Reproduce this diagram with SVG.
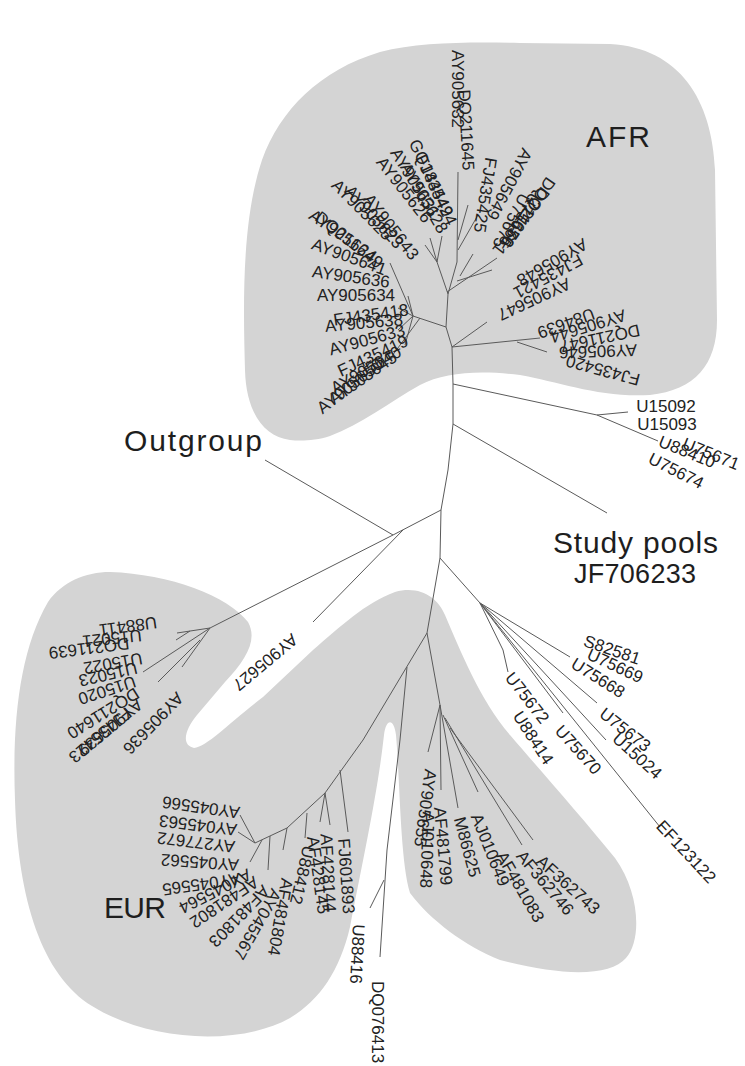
<svg xmlns="http://www.w3.org/2000/svg" width="745" height="1066" viewBox="0 0 745 1066">
<style>
.blob{fill:#d4d4d4;stroke:none}
.c path{fill:none;stroke:#5a5a5a;stroke-width:1}
.l{font-family:"Liberation Sans",Arial,sans-serif;font-size:17px;fill:#222;text-anchor:middle;dominant-baseline:central}
.b{font-family:"Liberation Sans",Arial,sans-serif;font-size:30px;fill:#1e1e1e}
</style>
<rect width="745" height="1066" fill="#ffffff"/>
<g id="regions">
<path class="blob" d="M290,440 C262,436 246,410 245,370 C243,300 242,220 262,160 C280,110 320,70 380,52 C420,42 470,42 520,43 L610,44 C680,48 712,100 715,170 L717,320 C717,365 695,390 650,395 C600,398 560,382 520,375 C480,370 445,372 420,385 C390,402 360,425 330,436 C315,441 300,441 290,440 Z"/>
<path class="blob" d="M110,572 C170,574 228,596 248,622 C258,640 246,660 225,682 L197,715 C186,728 180,745 194,748 C208,746 230,722 263,697 L313,650 C340,627 365,603 395,592 C420,585 438,598 445,615 C460,650 480,700 510,735 C540,770 580,815 615,858 C640,893 642,940 626,958 C610,977 560,976 500,960 C465,946 430,920 410,893 C400,860 400,780 396,735 C394,718 386,718 384,735 C378,790 365,850 350,927 C340,970 320,1000 290,1018 C240,1046 150,1042 92,1006 C42,975 18,900 15,800 C12,720 20,650 48,602 C62,582 85,572 110,572 Z"/>
</g>
<g id="connectors" class="c">
<path d="M458,172 L457,262 L448,294 L446,327 L452,347 L453,384 L453,424 L448,470 L441,510 L440,558 L427,633"/>
<path d="M446,327 L413,316 M413,316 L390,263 M413,316 L408,296 M413,316 L398,308 M413,316 L398,330 M413,316 L405,345 M420,318 L392,356"/>
<path d="M448,294 L437,262 M437,262 L430,238 M437,262 L442,236 M437,262 L425,245"/>
<path d="M447,292 L497,258 M460,276 L473,254 M457,281 L492,270 M458,240 L468,205 M458,250 L478,215"/>
<path d="M452,347 L540,338 M517,342 L547,352 M452,347 L487,322"/>
<path d="M453,384 L597,415 L628,412 M597,415 L658,441"/>
<path d="M453,424 L607,513"/>
<path d="M393,535 L441,510 M393,535 L265,460 M393,535 L210,628 M403,530 L313,622"/>
<path d="M210,628 L177,633 M190,631 L176,640 M210,628 L143,672 M200,640 L158,682 M210,628 L182,667"/>
<path d="M440,558 L480,603 M480,603 L570,657 M480,603 L597,703 M480,603 L606,740 M480,603 L660,827 M480,603 L503,650 L508,672 M480,603 L563,713"/>
<path d="M427,633 L440,705 M440,705 L428,752 M440,705 L441,790 M440,705 L458,808 M443,715 L478,792 M445,718 L522,845 M450,728 L533,840"/>
<path d="M427,633 L363,740 L325,793 L287,828 L255,843 M325,793 L330,825 M325,793 L320,822 M340,770 L348,832 M307,813 L305,838 M287,828 L283,850 M255,843 L240,815 M255,843 L238,832 M262,840 L250,862 M270,836 L268,870"/>
<path d="M407,667 L400,740 L387,850 L380,957 M384,880 L370,908"/>
</g>
<g id="labels-main">
<g id="n-afr"><text class="b" x="586" y="147" textLength="64">AFR</text></g>
<g id="n-outgroup"><text class="b" x="124" y="451" textLength="138">Outgroup</text></g>
<g id="n-study"><text class="b" x="553" y="553" textLength="165">Study pools</text></g>
<g id="n-jf706233"><text class="b" x="574" y="583" style="font-size:27px" textLength="122">JF706233</text></g>
<g id="n-eur"><text class="b" x="104" y="918" textLength="62">EUR</text></g>
</g>
<g id="leaves-afr">
<g id="n1"><text class="l" transform="translate(391,227) rotate(52)">AY905643</text></g>
<g id="n2"><text class="l" transform="translate(374,217) rotate(48)">AY905623</text></g>
<g id="n3"><text class="l" transform="translate(362,210) rotate(45)">AY905625</text></g>
<g id="n4"><text class="l" transform="translate(343,236) rotate(35)">AY905624</text></g>
<g id="n5"><text class="l" transform="translate(349,240) rotate(38)">DQ211649</text></g>
<g id="n6"><text class="l" transform="translate(349,257) rotate(20)">AY905641</text></g>
<g id="n7"><text class="l" transform="translate(351,277) rotate(8)">AY905636</text></g>
<g id="n8"><text class="l" transform="translate(356,295) rotate(0)">AY905634</text></g>
<g id="n9"><text class="l" transform="translate(371,315) rotate(-8)">FJ435418</text></g>
<g id="n10"><text class="l" transform="translate(364,323) rotate(-5)">AY905638</text></g>
<g id="n11"><text class="l" transform="translate(367,340) rotate(-15)">AY905633</text></g>
<g id="n12"><text class="l" transform="translate(373,356) rotate(-25)">FJ435419</text></g>
<g id="n13"><text class="l" transform="translate(366,370) rotate(-30)">AY905640</text></g>
<g id="n14"><text class="l" transform="translate(363,378) rotate(-35)">AY905645</text></g>
<g id="n15"><text class="l" transform="translate(350,386) rotate(-38)">AY905650</text></g>
<g id="n16"><text class="l" transform="translate(431,178) rotate(65)">GQ184449</text></g>
<g id="n17"><text class="l" transform="translate(436,190) rotate(65)">FJ435424</text></g>
<g id="n18"><text class="l" transform="translate(404,190) rotate(52)">AY905626</text></g>
<g id="n19"><text class="l" transform="translate(415,183) rotate(58)">AY905631</text></g>
<g id="n20"><text class="l" transform="translate(424,198) rotate(60)">AY905628</text></g>
<g id="n21"><text class="l" transform="translate(457,89) rotate(90)">AY905632</text></g>
<g id="n22"><text class="l" transform="translate(466,130) rotate(87)">DQ211645</text></g>
<g id="n23"><text class="l" transform="translate(485,195) rotate(99)">FJ435425</text></g>
<g id="n24"><text class="l" transform="translate(509,184) rotate(118)">AY905649</text></g>
<g id="n25"><text class="l" transform="translate(528,212) rotate(125)">DQ211650</text></g>
<g id="n26"><text class="l" transform="translate(521,221) rotate(128)">DQ211651</text></g>
<g id="n27"><text class="l" transform="translate(520,220) rotate(120)">U75676</text></g>
<g id="n28"><text class="l" transform="translate(511,221) rotate(118)">U75675</text></g>
<g id="n29"><text class="l" transform="translate(552,262) rotate(150)">AY905648</text></g>
<g id="n30"><text class="l" transform="translate(548,276) rotate(152)">FJ435421</text></g>
<g id="n31"><text class="l" transform="translate(534,299) rotate(155)">AY905647</text></g>
<g id="n32"><text class="l" transform="translate(566,323) rotate(160)">U84639</text></g>
<g id="n33"><text class="l" transform="translate(588,326) rotate(163)">AY905644</text></g>
<g id="n34"><text class="l" transform="translate(600,338) rotate(168)">DQ211647</text></g>
<g id="n35"><text class="l" transform="translate(598,351) rotate(178)">AY905646</text></g>
<g id="n36"><text class="l" transform="translate(603,370) rotate(195)">FJ435420</text></g>
</g>
<g id="leaves-right">
<g id="n37"><text class="l" transform="translate(666,406)">U15092</text></g>
<g id="n38"><text class="l" transform="translate(667,424)">U15093</text></g>
<g id="n39"><text class="l" transform="translate(687,452) rotate(22)">U88410</text></g>
<g id="n40"><text class="l" transform="translate(711,454) rotate(22)">U75671</text></g>
<g id="n41"><text class="l" transform="translate(676,471) rotate(27)">U75674</text></g>
<g id="n42"><text class="l" transform="translate(612,650) rotate(19)">S82581</text></g>
<g id="n43"><text class="l" transform="translate(615,666) rotate(25)">U75669</text></g>
<g id="n44"><text class="l" transform="translate(598,678) rotate(32)">U75668</text></g>
<g id="n45"><text class="l" transform="translate(625,730) rotate(38)">U75673</text></g>
<g id="n46"><text class="l" transform="translate(637,756) rotate(42)">U15024</text></g>
<g id="n47"><text class="l" transform="translate(686,852) rotate(47)">EF123122</text></g>
<g id="n48"><text class="l" transform="translate(527,698) rotate(52)">U75672</text></g>
<g id="n49"><text class="l" transform="translate(533,738) rotate(57)">U88414</text></g>
<g id="n50"><text class="l" transform="translate(578,750) rotate(48)">U75670</text></g>
</g>
<g id="leaves-mid">
<g id="n51"><text class="l" transform="translate(425,808) rotate(98)">AY905655</text></g>
<g id="n52"><text class="l" transform="translate(427,850) rotate(92)">AJ010648</text></g>
<g id="n53"><text class="l" transform="translate(443,846) rotate(85)">AF481799</text></g>
<g id="n54"><text class="l" transform="translate(467,847) rotate(75)">M86625</text></g>
<g id="n55"><text class="l" transform="translate(490,850) rotate(68)">AJ010649</text></g>
<g id="n56"><text class="l" transform="translate(520,887) rotate(60)">AF481083</text></g>
<g id="n57"><text class="l" transform="translate(545,883) rotate(50)">AF362746</text></g>
<g id="n58"><text class="l" transform="translate(568,885) rotate(42)">AF362743</text></g>
<g id="n59"><text class="l" transform="translate(357,954) rotate(93)">U88416</text></g>
<g id="n60"><text class="l" transform="translate(377,1022) rotate(90)">DQ076413</text></g>
</g>
<g id="leaves-eur">
<g id="n61"><text class="l" transform="translate(265,662) rotate(140)">AY905627</text></g>
<g id="n62"><text class="l" transform="translate(128,626) rotate(172)">U88411</text></g>
<g id="n63"><text class="l" transform="translate(112,638) rotate(174)">U15021</text></g>
<g id="n64"><text class="l" transform="translate(89,648) rotate(173)">DQ211639</text></g>
<g id="n65"><text class="l" transform="translate(113,663) rotate(170)">U15022</text></g>
<g id="n66"><text class="l" transform="translate(108,674) rotate(167)">U15023</text></g>
<g id="n67"><text class="l" transform="translate(107,690) rotate(162)">U15020</text></g>
<g id="n68"><text class="l" transform="translate(103,713) rotate(148)">DQ211640</text></g>
<g id="n69"><text class="l" transform="translate(110,727) rotate(140)">AY905639</text></g>
<g id="n70"><text class="l" transform="translate(100,735) rotate(140)">FJ435423</text></g>
<g id="n71"><text class="l" transform="translate(153,723) rotate(134)">AY905636</text></g>
<g id="n72"><text class="l" transform="translate(346,876) rotate(86)">FJ601893</text></g>
<g id="n73"><text class="l" transform="translate(328,873) rotate(87)">AF428144</text></g>
<g id="n74"><text class="l" transform="translate(318,875) rotate(82)">AF428145</text></g>
<g id="n75"><text class="l" transform="translate(302,875) rotate(103)">U88412</text></g>
<g id="n76"><text class="l" transform="translate(201,807) rotate(188)">AY045566</text></g>
<g id="n77"><text class="l" transform="translate(198,825) rotate(187)">AY045563</text></g>
<g id="n78"><text class="l" transform="translate(196,842) rotate(187)">AY277672</text></g>
<g id="n79"><text class="l" transform="translate(200,862) rotate(184)">AY045562</text></g>
<g id="n80"><text class="l" transform="translate(201,884) rotate(172)">AY045565</text></g>
<g id="n81"><text class="l" transform="translate(215,891) rotate(153)">AY045564</text></g>
<g id="n82"><text class="l" transform="translate(224,902) rotate(146)">AF481802</text></g>
<g id="n83"><text class="l" transform="translate(239,916) rotate(134)">AF481803</text></g>
<g id="n84"><text class="l" transform="translate(257,924) rotate(120)">AY045567</text></g>
<g id="n85"><text class="l" transform="translate(280,917) rotate(100)">AF481804</text></g>
</g>
</svg>
